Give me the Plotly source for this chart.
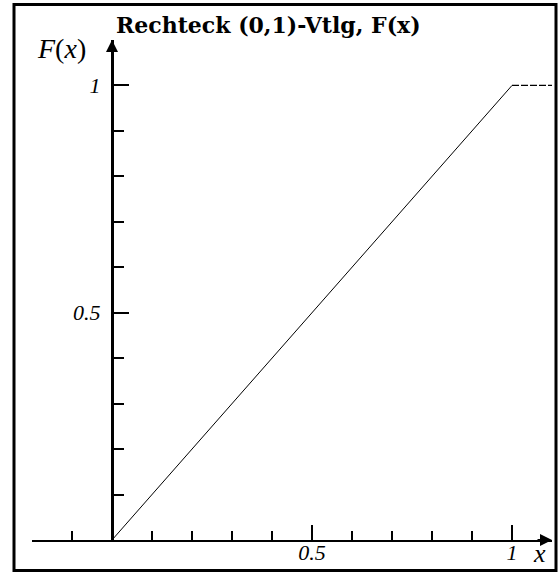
import plotly.graph_objects as go

# Distribution function of the uniform (rectangular) distribution on (0,1)
x_ramp = [0, 1]
F_ramp = [0, 1]
x_tail = [1, 1.1]
F_tail = [1, 1]

x_major = [0.5, 1]
x_major_text = ["0.5", "1"]
x_minor = [-0.2, -0.1, 0.1, 0.2, 0.3, 0.4, 0.6, 0.7, 0.8, 0.9]
y_major = [0.5, 1]
y_major_text = ["0.5", "1"]
y_minor = [0.1, 0.2, 0.3, 0.4, 0.6, 0.7, 0.8, 0.9]

x_range = [-0.2, 1.1]
y_range = [0, 1.1]

W, H = 558, 573
ML, MR, MT, MB = 32, 6, 40, 33
pw, ph = W - ML - MR, H - MT - MB


def px_to_paper(px, py):
    return (px - ML) / pw, (H - MB - py) / ph


tick_font = dict(family="Liberation Serif", size=22, color="black", style="italic")

fig = go.Figure()
fig.add_trace(go.Scatter(x=x_ramp, y=F_ramp, mode="lines",
                         line=dict(color="black", width=1), showlegend=False))
fig.add_trace(go.Scatter(x=x_tail, y=F_tail, mode="lines",
                         line=dict(color="black", width=1.3, dash="7px,2px"),
                         showlegend=False))

y_pos = (0 - x_range[0]) / (x_range[1] - x_range[0])

fig.update_layout(
    width=W, height=H,
    margin=dict(l=ML, r=MR, t=MT, b=MB, pad=0, autoexpand=False),
    paper_bgcolor="white", plot_bgcolor="white",
    xaxis=dict(range=x_range, showgrid=False, zeroline=False, automargin=False,
               showline=True, linecolor="black", linewidth=2,
               ticks="inside", ticklen=15, tickwidth=2, tickcolor="black",
               tickmode="array", tickvals=x_major, ticktext=x_major_text,
               tickfont=tick_font, ticklabelstandoff=-8,
               minor=dict(tickmode="array", tickvals=x_minor, ticks="inside",
                          ticklen=9, tickwidth=2, tickcolor="black")),
    yaxis=dict(range=y_range, showgrid=False, zeroline=False, automargin=False,
               anchor="free", position=y_pos, side="left",
               showline=True, linecolor="black", linewidth=3,
               ticks="inside", ticklen=15, tickwidth=2, tickcolor="black",
               tickmode="array", tickvals=y_major, ticktext=y_major_text,
               tickfont=tick_font, ticklabelstandoff=6,
               minor=dict(tickmode="array", tickvals=y_minor, ticks="inside",
                          ticklen=10, tickwidth=2, tickcolor="black")),
)

# arrowheads at the ends of both axes
fig.add_annotation(x=x_range[1], y=0, ax=x_range[1] - 0.04, ay=0,
                   xref="x", yref="y", axref="x", ayref="y", text="",
                   showarrow=True, arrowhead=2, arrowsize=1.2, arrowwidth=2,
                   arrowcolor="black")
fig.add_annotation(x=0, y=y_range[1], ax=0, ay=y_range[1] - 0.04,
                   xref="x", yref="y", axref="x", ayref="y", text="",
                   showarrow=True, arrowhead=2, arrowsize=1.2, arrowwidth=2,
                   arrowcolor="black")

# title and axis names
tx, ty = px_to_paper(114, 25)
fig.add_annotation(x=tx, y=ty, xref="paper", yref="paper", xanchor="left",
                   yanchor="middle", showarrow=False,
                   text="<b>Rechteck (0,1)-Vtlg, F(x)</b>",
                   font=dict(family="DejaVu Serif", size=22, color="black"))
fx, fy = px_to_paper(61, 48)
fig.add_annotation(x=fx, y=fy, xref="paper", yref="paper", xanchor="center",
                   yanchor="middle", showarrow=False,
                   text="<i>F</i>(<i>x</i>)",
                   font=dict(family="Liberation Serif", size=28, color="black"))
lx, ly = px_to_paper(539, 553)
fig.add_annotation(x=lx, y=ly, xref="paper", yref="paper", xanchor="center",
                   yanchor="middle", showarrow=False, text="<i>x</i>",
                   font=dict(family="Liberation Serif", size=26, color="black"))

# frame around the whole figure
x0, y0 = px_to_paper(14, 570.5)
x1, y1 = px_to_paper(556, 4.5)
fig.add_shape(type="rect", xref="paper", yref="paper", x0=x0, y0=y0, x1=x1, y1=y1,
              line=dict(color="black", width=3), fillcolor="rgba(0,0,0,0)")

fig.write_html("out.html")
